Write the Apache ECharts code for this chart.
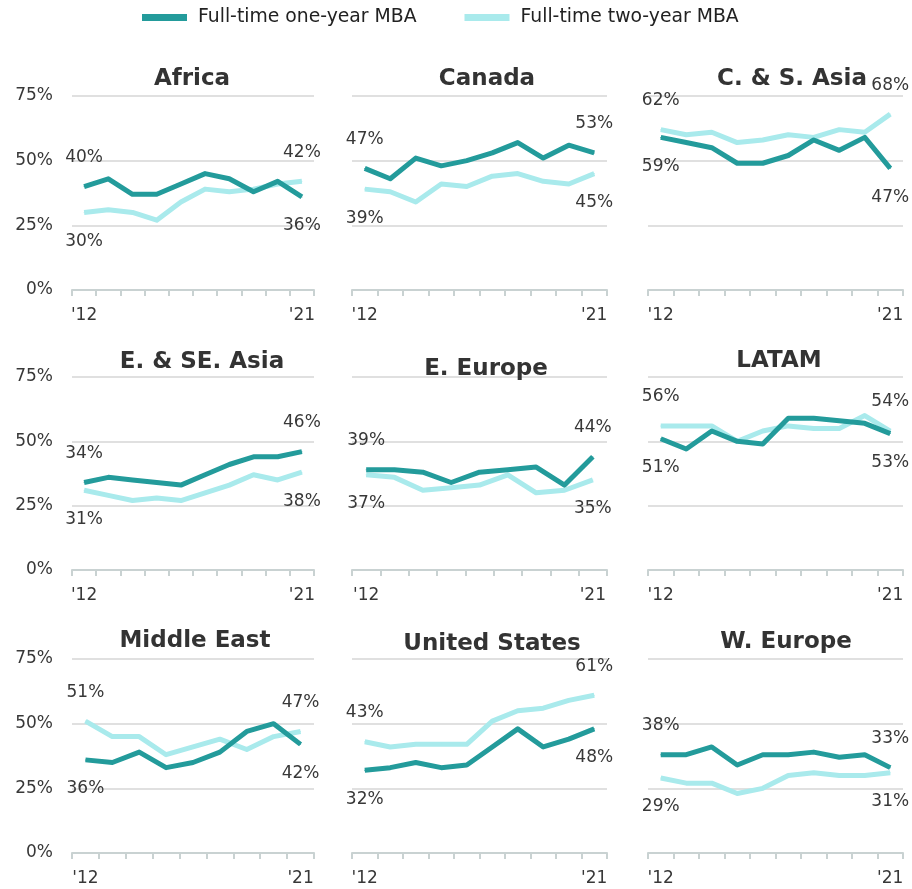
<!DOCTYPE html>
<html>
<head>
<meta charset="utf-8">
<script src="https://cdn.jsdelivr.net/npm/echarts@6/dist/echarts.min.js"></script>
<style>
  html, body { margin: 0; padding: 0; background: #ffffff; }
  #chart { width: 912px; height: 889px; }
</style>
</head>
<body>
<div id="chart"></div>
<script>
// ---------- DATA ----------
const seriesNames = ['Full-time one-year MBA', 'Full-time two-year MBA'];
const regions = ['Africa', 'Canada', 'C. & S. Asia', 'E. & SE. Asia', 'E. Europe', 'LATAM', 'Middle East', 'United States', 'W. Europe'];
const yearsTen = ['2012', '2013', '2014', '2015', '2016', '2017', '2018', '2019', '2020', '2021'];
const yearsNine = ['2012', '2014', '2015', '2016', '2017', '2018', '2019', '2020', '2021'];
const yTicks = [0, 25, 50, 75];

const africaOne = [40, 43, 37, 37, 41, 45, 43, 38, 42, 36];
const africaTwo = [30, 31, 30, 27, 34, 39, 38, 39, 41, 42];
const canadaOne = [47, 43, 51, 48, 50, 53, 57, 51, 56, 53];
const canadaTwo = [39, 38, 34, 41, 40, 44, 45, 42, 41, 45];
const csAsiaOne = [59, 57, 55, 49, 49, 52, 58, 54, 59, 47];
const csAsiaTwo = [62, 60, 61, 57, 58, 60, 59, 62, 61, 68];
const eseAsiaOne = [34, 36, 35, 34, 33, 37, 41, 44, 44, 46];
const eseAsiaTwo = [31, 29, 27, 28, 27, 30, 33, 37, 35, 38];
const eEuropeOne = [39, 39, 38, 34, 38, 39, 40, 33, 44];
const eEuropeTwo = [37, 36, 31, 32, 33, 37, 30, 31, 35];
const latamOne = [51, 47, 54, 50, 49, 59, 59, 58, 57, 53];
const latamTwo = [56, 56, 56, 50, 54, 56, 55, 55, 60, 54];
const middleEastOne = [36, 35, 39, 33, 35, 39, 47, 50, 42];
const middleEastTwo = [51, 45, 45, 38, 41, 44, 40, 45, 47];
const usOne = [32, 33, 35, 33, 34, 41, 48, 41, 44, 48];
const usTwo = [43, 41, 42, 42, 42, 51, 55, 56, 59, 61];
const wEuropeOne = [38, 38, 41, 34, 38, 38, 39, 37, 38, 33];
const wEuropeTwo = [29, 27, 27, 23, 25, 30, 31, 30, 30, 31];

const panelYears = [yearsTen, yearsTen, yearsTen, yearsTen, yearsNine, yearsTen, yearsNine, yearsTen, yearsTen];
const panelOne = [africaOne, canadaOne, csAsiaOne, eseAsiaOne, eEuropeOne, latamOne, middleEastOne, usOne, wEuropeOne];
const panelTwo = [africaTwo, canadaTwo, csAsiaTwo, eseAsiaTwo, eEuropeTwo, latamTwo, middleEastTwo, usTwo, wEuropeTwo];

// ---------- LAYOUT / STYLE ----------
const FONT = 'DejaVu Sans';
const TEXT = '#383838';
const DARK = '#239B9B';
const LIGHT = '#A9EAEC';
const colL = [72, 352, 648];
const colR = [314, 607, 903];
const rowT = [96, 377, 659];
const rowB = [290, 570, 853];
const titlePos = [[192, 79], [487, 79], [792, 79], [202, 362], [486, 369], [779, 361], [195, 641], [492, 644], [786, 642]];

const grids = [], xAxes = [], yAxes = [], series = [], graphics = [];

regions.forEach((name, p) => {
  const r = Math.floor(p / 3), c = p % 3;
  const cats = panelYears[p];
  const n = cats.length;
  grids.push({ left: colL[c], top: rowT[r], width: colR[c] - colL[c], height: rowB[r] - rowT[r], containLabel: false });
  xAxes.push({
    type: 'category', gridIndex: p, data: cats, boundaryGap: true,
    axisLine: { show: true, lineStyle: { color: '#c9d2d2', width: 2 } },
    axisTick: { show: true, interval: 0, length: 6, lineStyle: { color: '#c9d2d2', width: 2 } },
    axisLabel: {
      interval: (idx) => idx === 0 || idx === n - 1,
      formatter: (v) => "'" + v.slice(2),
      fontFamily: FONT, fontSize: 17, color: TEXT, margin: 17
    },
    splitLine: { show: false }
  });
  yAxes.push({
    type: 'value', gridIndex: p, min: yTicks[0], max: yTicks[yTicks.length - 1], interval: yTicks[1] - yTicks[0],
    axisLine: { show: false }, axisTick: { show: false },
    axisLabel: { show: c === 0, formatter: '{value}%', fontFamily: FONT, fontSize: 17, color: TEXT, margin: 19 },
    splitLine: { show: true, lineStyle: { color: '#e0e0e0', width: 2 } }
  });
  const one = panelOne[p], two = panelTwo[p];
  const mk = (arr, other) => arr.map((v, i) => {
    if (i === 0 || i === n - 1) {
      return { value: v, label: { show: true, position: v >= other[i] ? 'top' : 'bottom' } };
    }
    return v;
  });
  const common = {
    type: 'line', xAxisIndex: p, yAxisIndex: p, smooth: false, clip: false,
    symbol: 'circle', symbolSize: 1, showSymbol: true, silent: true,
    label: { show: false, formatter: '{c}%', fontFamily: FONT, fontSize: 17, color: TEXT, distance: 20 },
    emphasis: { disabled: true }, animation: false
  };
  series.push(Object.assign({}, common, {
    name: seriesNames[1], data: mk(two, one), z: 2,
    itemStyle: { color: LIGHT }, lineStyle: { color: LIGHT, width: 5, join: 'round' }
  }));
  series.push(Object.assign({}, common, {
    name: seriesNames[0], data: mk(one, two), z: 3,
    itemStyle: { color: DARK }, lineStyle: { color: DARK, width: 5, join: 'round' }
  }));
  graphics.push({
    type: 'text', x: titlePos[p][0], y: titlePos[p][1], z: 100,
    style: { text: name, fontFamily: FONT, fontWeight: 'bold', fontSize: 23, fill: '#333333', align: 'center', verticalAlign: 'middle' }
  });
});

const chart = echarts.init(document.getElementById('chart'), null, { renderer: 'canvas' });
chart.setOption({
  animation: false,
  backgroundColor: '#ffffff',
  legend: {
    left: 137, top: 3,
    data: [{ name: seriesNames[0], icon: 'rect' }, { name: seriesNames[1], icon: 'rect' }],
    itemWidth: 45, itemHeight: 7, itemGap: 48,
    textStyle: { fontFamily: FONT, fontSize: 18.8, color: '#222222', padding: [0, 0, 0, 6] }
  },
  grid: grids, xAxis: xAxes, yAxis: yAxes, series: series, graphic: graphics
});
</script>
</body>
</html>
